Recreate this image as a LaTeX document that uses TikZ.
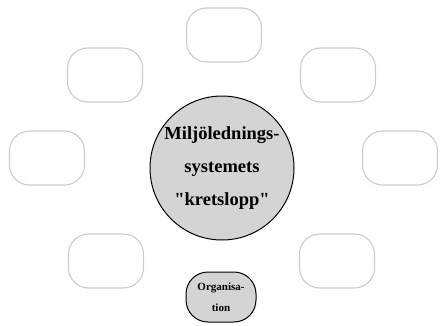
\documentclass[tikz,border=0pt]{standalone}
\usepackage{fontspec}
\setmainfont{Liberation Serif}[Ligatures=TeXOff]
\begin{document}
\begin{tikzpicture}[x=1pt,y=-1pt,
  emptybox/.style={draw=black!20,line width=1.1pt,fill=white,rounded corners=20pt,
    minimum width=75pt,minimum height=54pt,inner sep=0pt},
  hub/.style={circle,draw=black,line width=1pt,fill=black!17,minimum size=144pt,
    inner sep=0pt,align=center,font=\bfseries\fontsize{18.5}{33}\selectfont},
  orgbox/.style={draw=black,line width=1pt,fill=black!17,rounded corners=22pt,
    minimum width=70pt,minimum height=50pt,inner sep=0pt,align=center,
    font=\bfseries\fontsize{11}{21}\selectfont}]
\useasboundingbox (0,0) rectangle (440,325);
% central circle
\node[hub] (hub) at (222,168) {Miljölednings-\\systemets\\"kretslopp"};
% surrounding empty boxes
\node[emptybox] (top) at (224,35) {};
\node[emptybox] (tl) at (105,75) {};
\node[emptybox] (tr) at (338,75) {};
\node[emptybox] (l) at (47,158) {};
\node[emptybox] (r) at (400,158) {};
\node[emptybox] (bl) at (106,261) {};
\node[emptybox] (br) at (337,261) {};
% organisation box
\node[orgbox] (org) at (221,297) {Organisa-\\tion};
\end{tikzpicture}
\end{document}
